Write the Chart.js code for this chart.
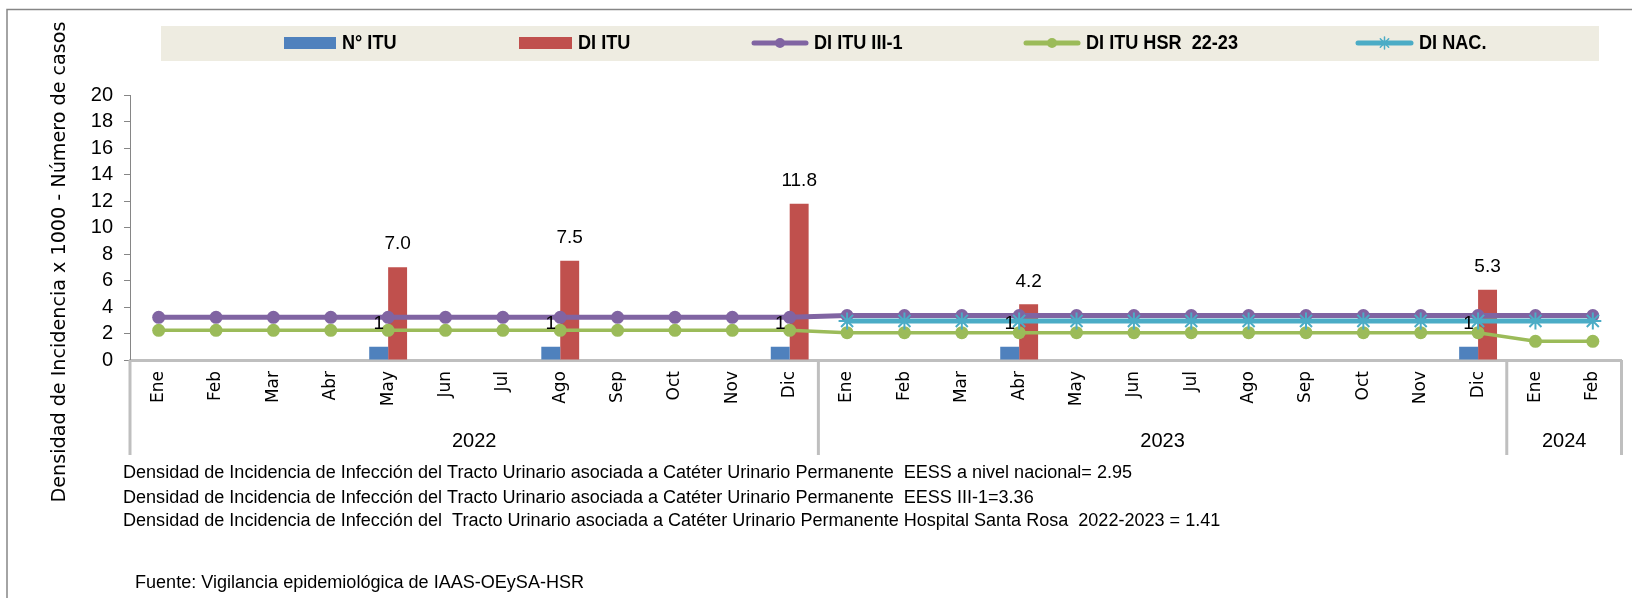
<!DOCTYPE html>
<html>
<head>
<meta charset="utf-8">
<script src="https://cdn.jsdelivr.net/npm/chart.js@4.4.1/dist/chart.umd.min.js"></script>
<style>
  html, body { margin:0; padding:0; background:#fff; }
  #wrap { width:1632px; height:598px; }
</style>
</head>
<body>
<div id="wrap"><canvas id="chart" width="1632" height="598"></canvas></div>
<script>
// categories (month, grouped by year)
const categories = [
  "Ene","Feb","Mar","Abr","May","Jun","Jul","Ago","Sep","Oct","Nov","Dic",
  "Ene","Feb","Mar","Abr","May","Jun","Jul","Ago","Sep","Oct","Nov","Dic",
  "Ene","Feb"
];
const years = ["2022", "2023", "2024"];
const yearSpans = [12, 12, 2];

// series
const nItu     = [null,null,null,null,1,null,null,1,null,null,null,1,  null,null,null,1,null,null,null,null,null,null,null,1,  null,null];
const diItu    = [null,null,null,null,7.0,null,null,7.5,null,null,null,11.8,  null,null,null,4.2,null,null,null,null,null,null,null,5.3,  null,null];
const diItuIII = [3.22,3.22,3.22,3.22,3.22,3.22,3.22,3.22,3.22,3.22,3.22,3.22,  3.36,3.36,3.36,3.36,3.36,3.36,3.36,3.36,3.36,3.36,3.36,3.36,  3.36,3.36];
const diItuHsr = [2.24,2.24,2.24,2.24,2.24,2.24,2.24,2.24,2.24,2.24,2.24,2.24,  2.06,2.06,2.06,2.06,2.06,2.06,2.06,2.06,2.06,2.06,2.06,2.06,  1.41,1.41];
const diNac    = [null,null,null,null,null,null,null,null,null,null,null,null,  2.95,2.95,2.95,2.95,2.95,2.95,2.95,2.95,2.95,2.95,2.95,2.95,  2.95,2.95];

const yTitle = "Densidad de Incidencia x 1000 - Número de casos";
const notes = [
  "Densidad de Incidencia de Infección del Tracto Urinario asociada a Catéter Urinario Permanente  EESS a nivel nacional= 2.95",
  "Densidad de Incidencia de Infección del Tracto Urinario asociada a Catéter Urinario Permanente  EESS III-1=3.36",
  "Densidad de Incidencia de Infección del  Tracto Urinario asociada a Catéter Urinario Permanente Hospital Santa Rosa  2022-2023 = 1.41"
];
const source = "Fuente: Vigilancia epidemiológica de IAAS-OEySA-HSR";

const C_BLUE = "#4F81BD", C_RED = "#C0504D", C_PURPLE = "#8064A2", C_GREEN = "#9BBB59", C_CYAN = "#4BACC6";
const AXIS_LIGHT = "#BFBFBF";

// draw text squeezed horizontally so it spans width w
function fitText(ctx, txt, x, y, w){
  const m = ctx.measureText(txt).width;
  ctx.save(); ctx.translate(x, y); ctx.scale(w / m, 1);
  ctx.textAlign = "left"; ctx.fillText(txt, 0, 0); ctx.restore();
}

function drawMarker(ctx, style, x, y, r, color){
  ctx.save();
  ctx.fillStyle = color; ctx.strokeStyle = color;
  if (style === "star") {
    ctx.lineWidth = 1.5; ctx.beginPath();
    ctx.moveTo(x - r, y); ctx.lineTo(x + r, y);
    ctx.moveTo(x, y - r); ctx.lineTo(x, y + r);
    const d = r * 0.7;
    ctx.moveTo(x - d, y - d); ctx.lineTo(x + d, y + d);
    ctx.moveTo(x - d, y + d); ctx.lineTo(x + d, y - d);
    ctx.stroke();
  } else {
    ctx.beginPath(); ctx.arc(x, y, r, 0, Math.PI * 2); ctx.fill();
  }
  ctx.restore();
}

const decorPlugin = {
  id: "decor",
  beforeDraw(chart){
    const { ctx } = chart;
    ctx.save();
    // outer frame (top + left)
    ctx.strokeStyle = "#868686"; ctx.lineWidth = 1.5;
    ctx.beginPath(); ctx.moveTo(7, 598); ctx.lineTo(7, 9.5); ctx.lineTo(1632, 9.5); ctx.stroke();
    // legend band
    ctx.fillStyle = "#EEECE1";
    ctx.fillRect(161, 26, 1438, 35);
    ctx.restore();
  },
  afterDatasetsDraw(chart){
    const { ctx } = chart;
    ctx.save();
    ctx.fillStyle = "#000";
    ctx.font = "19px 'Liberation Sans'";
    ctx.textAlign = "center"; ctx.textBaseline = "middle";
    [0, 1].forEach((di) => {
      const ds = chart.data.datasets[di];
      chart.getDatasetMeta(di).data.forEach((el, i) => {
        const v = ds.data[i];
        if (v == null) return;
        const txt = di === 0 ? String(v) : v.toFixed(1);
        ctx.fillText(txt, el.x, el.y - 23);
      });
    });
    ctx.restore();
  },
  afterDraw(chart){
    const { ctx } = chart;
    const xs = chart.scales.x;
    const area = chart.chartArea;
    ctx.save();

    // legend
    const items = [
      { x: 284, w: 52, kind: "bar", color: C_BLUE },
      { x: 519, w: 53, kind: "bar", color: C_RED },
      { x: 752, w: 56, kind: "line", color: C_PURPLE, marker: "circle" },
      { x: 1024, w: 56, kind: "line", color: C_GREEN, marker: "circle" },
      { x: 1356, w: 57, kind: "line", color: C_CYAN, marker: "star" }
    ];
    ctx.font = "bold 21px 'Liberation Sans'";
    const sq = 152 / ctx.measureText(chart.data.datasets[3].label).width;
    ctx.textBaseline = "middle";
    items.forEach((it, i) => {
      const ly = 43;
      if (it.kind === "bar") {
        ctx.fillStyle = it.color; ctx.fillRect(it.x, ly - 6, it.w, 12);
      } else {
        ctx.strokeStyle = it.color; ctx.lineWidth = 5; ctx.lineCap = "round";
        ctx.beginPath(); ctx.moveTo(it.x + 2, ly); ctx.lineTo(it.x + it.w - 2, ly); ctx.stroke();
        drawMarker(ctx, it.marker, it.x + it.w / 2, ly, it.marker === "star" ? 6 : 5, it.color);
      }
      const label = chart.data.datasets[i].label;
      ctx.fillStyle = "#000";
      fitText(ctx, label, it.x + it.w + 6, ly, ctx.measureText(label).width * sq);
    });

    // multi-level category axis: separators + years
    const step = xs.getPixelForValue(1) - xs.getPixelForValue(0);
    const top = area.bottom, bot = 455;
    ctx.strokeStyle = AXIS_LIGHT; ctx.lineWidth = 3; ctx.lineCap = "butt";
    let idx = 0;
    const bounds = [xs.getPixelForValue(0) - step / 2];
    yearSpans.forEach((n) => { idx += n; bounds.push(xs.getPixelForValue(idx - 1) + step / 2); });
    bounds.forEach((bx) => { ctx.beginPath(); ctx.moveTo(bx, top); ctx.lineTo(bx, bot); ctx.stroke(); });
    ctx.fillStyle = "#000"; ctx.font = "20px 'Liberation Sans'";
    ctx.textAlign = "center"; ctx.textBaseline = "middle";
    years.forEach((yr, i) => ctx.fillText(yr, (bounds[i] + bounds[i + 1]) / 2, 441));

    // y title
    ctx.font = "20px 'DejaVu Sans'";
    ctx.save();
    ctx.translate(60, 262); ctx.rotate(-Math.PI / 2);
    const tw = 481;
    fitText(ctx, yTitle, -tw / 2, 0, tw);
    ctx.restore();

    // notes
    ctx.font = "18px 'Liberation Sans'";
    const nsq = 1009 / ctx.measureText(notes[0]).width;
    [473, 498, 521].forEach((ny, i) => fitText(ctx, notes[i], 123, ny, ctx.measureText(notes[i]).width * nsq));
    fitText(ctx, source, 135, 583, ctx.measureText(source).width * nsq);

    ctx.restore();
  }
};

const ctx = document.getElementById("chart").getContext("2d");
new Chart(ctx, {
  type: "bar",
  data: {
    labels: categories,
    datasets: [
      { type: "bar", label: "N° ITU", data: nItu, backgroundColor: C_BLUE, categoryPercentage: 0.66, barPercentage: 1, order: 10 },
      { type: "bar", label: "DI ITU", data: diItu, backgroundColor: C_RED, categoryPercentage: 0.66, barPercentage: 1, order: 10 },
      { type: "line", label: "DI ITU III-1", data: diItuIII, borderColor: C_PURPLE, backgroundColor: C_PURPLE,
        borderWidth: 5, pointRadius: 6.5, pointBorderWidth: 0, pointBackgroundColor: C_PURPLE, tension: 0, order: 3 },
      { type: "line", label: "DI ITU HSR  22-23", data: diItuHsr, borderColor: C_GREEN, backgroundColor: C_GREEN,
        borderWidth: 3.5, pointRadius: 6.5, pointBorderWidth: 0, pointBackgroundColor: C_GREEN, tension: 0, order: 2 },
      { type: "line", label: "DI NAC.", data: diNac, borderColor: C_CYAN, backgroundColor: C_CYAN,
        borderWidth: 5, pointStyle: "star", pointRadius: 8.5, pointBorderWidth: 2, pointBorderColor: C_CYAN, tension: 0, order: 1 }
    ]
  },
  options: {
    responsive: false,
    devicePixelRatio: 1,
    animation: false,
    layout: { padding: { left: 0, top: 95, right: 10, bottom: 143 } },
    plugins: { legend: { display: false }, tooltip: { enabled: false } },
    scales: {
      x: {
        grid: { display: false, drawTicks: false },
        border: { color: AXIS_LIGHT, width: 3 },
        ticks: { minRotation: 90, maxRotation: 90, autoSkip: false, padding: 11, color: "#000",
                 font: { family: "DejaVu Sans", size: 17 } },
        afterFit(s){ s.height = 95; }
      },
      y: {
        min: 0, max: 20,
        ticks: { stepSize: 2, autoSkip: false, color: "#000", padding: 11, font: { family: "Liberation Sans", size: 20 } },
        grid: { drawOnChartArea: false, tickLength: 6, color: "#868686" },
        border: { color: "#868686", width: 1 },
        afterFit(s){ s.width = 130; }
      }
    }
  },
  plugins: [decorPlugin]
});
</script>
</body>
</html>
